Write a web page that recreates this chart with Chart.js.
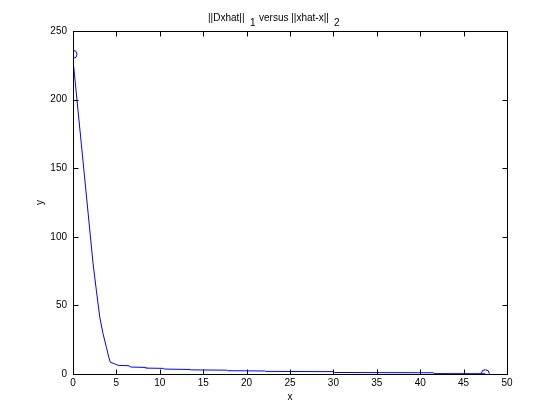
<!DOCTYPE html>
<html>
<head>
<meta charset="utf-8">
<script src="https://cdn.jsdelivr.net/npm/chart.js@4/dist/chart.umd.min.js"></script>
<style>
  html, body { margin: 0; padding: 0; background: #fff; }
  #wrap { width: 560px; height: 420px; }
</style>
</head>
<body>
<div id="wrap"><canvas id="plot"></canvas></div>
<script>
// curve
const xs = [0.08, 0.97, 1.73, 1.93, 2.31, 2.69, 3.08, 3.46, 3.85, 4.12, 4.3, 4.8, 5.2,
            6.5, 6.6, 8.3, 8.4, 10.4, 10.5, 13.5, 13.6, 17.7, 17.8, 22.1, 22.2,
            30.0, 30.1, 41.5, 41.6, 47.5];
const ys = [224, 167, 118, 105, 80.5, 61, 41.5, 29.3, 19.5, 12.2, 8.6, 7.4, 6.3,
            6.0, 5.1, 4.8, 4.3, 4.1, 3.6, 3.3, 3.0, 2.8, 2.4, 2.2, 1.9,
            1.7, 1.1, 0.9, 0.3, 0.2];
// start / end markers
const markX = [0, 47.5];
const markY = [233, 0.2];

const xTicks = [0, 5, 10, 15, 20, 25, 30, 35, 40, 45, 50];
const yTicks = [0, 50, 100, 150, 200, 250];

const titleParts = [
  { text: '||Dxhat||', x: 208, y: 21 },
  { text: '1', x: 250, y: 26 },
  { text: 'versus ||xhat-x||', x: 259, y: 21 },
  { text: '2', x: 334, y: 26 }
];

const FONT = '10px "Liberation Sans", Arial, sans-serif';

const matlabBox = {
  id: 'matlabBox',
  afterDraw(chart) {
    const c = chart.ctx;
    const a = chart.chartArea;
    const L = Math.round(a.left) + 0.5, R = Math.round(a.right) + 0.5;
    const T = Math.round(a.top) + 0.5, B = Math.round(a.bottom) + 0.5;
    c.save();
    c.strokeStyle = '#000';
    c.lineWidth = 1;
    c.strokeRect(L, T, R - L, B - T);
    c.beginPath();
    const tl = 5;
    xTicks.forEach(v => {
      const px = Math.round(chart.scales.x.getPixelForValue(v)) + 0.5;
      c.moveTo(px, B); c.lineTo(px, B - tl);
      c.moveTo(px, T); c.lineTo(px, T + tl);
    });
    yTicks.forEach(v => {
      const py = Math.round(chart.scales.y.getPixelForValue(v)) + 0.5;
      c.moveTo(L, py); c.lineTo(L + tl, py);
      c.moveTo(R, py); c.lineTo(R - tl, py);
    });
    c.stroke();

    // title with subscripts
    c.fillStyle = '#000';
    c.font = FONT;
    c.textBaseline = 'alphabetic';
    c.textAlign = 'left';
    titleParts.forEach(p => c.fillText(p.text, p.x, p.y));
    c.restore();
  }
};

new Chart(document.getElementById('plot'), {
  type: 'scatter',
  data: {
    datasets: [
      {
        data: xs.map((x, i) => ({ x: x, y: ys[i] })),
        showLine: true,
        borderColor: '#0000ff',
        borderWidth: 1,
        pointRadius: 0,
        tension: 0
      },
      {
        data: markX.map((x, i) => ({ x: x, y: markY[i] })),
        showLine: false,
        pointRadius: 4,
        pointStyle: 'circle',
        borderColor: '#0000ff',
        backgroundColor: 'rgba(0,0,0,0)',
        pointBorderWidth: 1
      }
    ]
  },
  plugins: [matlabBox],
  options: {
    responsive: true,
    maintainAspectRatio: false,
    animation: false,
    layout: { padding: { top: 31, right: 53, left: 0, bottom: 0 } },
    plugins: {
      legend: { display: false },
      tooltip: { enabled: false }
    },
    scales: {
      x: {
        type: 'linear',
        min: 0,
        max: 50,
        afterBuildTicks: s => { s.ticks = xTicks.map(v => ({ value: v })); },
        afterFit: s => { s.height = 46; },
        grid: { display: false, drawTicks: false },
        border: { display: false },
        ticks: {
          color: '#000',
          padding: 3,
          maxRotation: 0,
          font: { family: '"Liberation Sans", Arial, sans-serif', size: 10 }
        },
        title: {
          display: true,
          text: 'x',
          color: '#000',
          padding: { top: 0, bottom: 17 },
          font: { family: '"Liberation Sans", Arial, sans-serif', size: 10 }
        }
      },
      y: {
        type: 'linear',
        min: 0,
        max: 250,
        afterBuildTicks: s => { s.ticks = yTicks.map(v => ({ value: v })); },
        afterFit: s => { s.width = 73; },
        grid: { display: false, drawTicks: false },
        border: { display: false },
        ticks: {
          color: '#000',
          padding: 6,
          font: { family: '"Liberation Sans", Arial, sans-serif', size: 10 }
        },
        title: {
          display: true,
          text: 'y',
          color: '#000',
          padding: { top: 34, bottom: 0 },
          font: { family: '"Liberation Sans", Arial, sans-serif', size: 10 }
        }
      }
    }
  }
});
</script>
</body>
</html>
